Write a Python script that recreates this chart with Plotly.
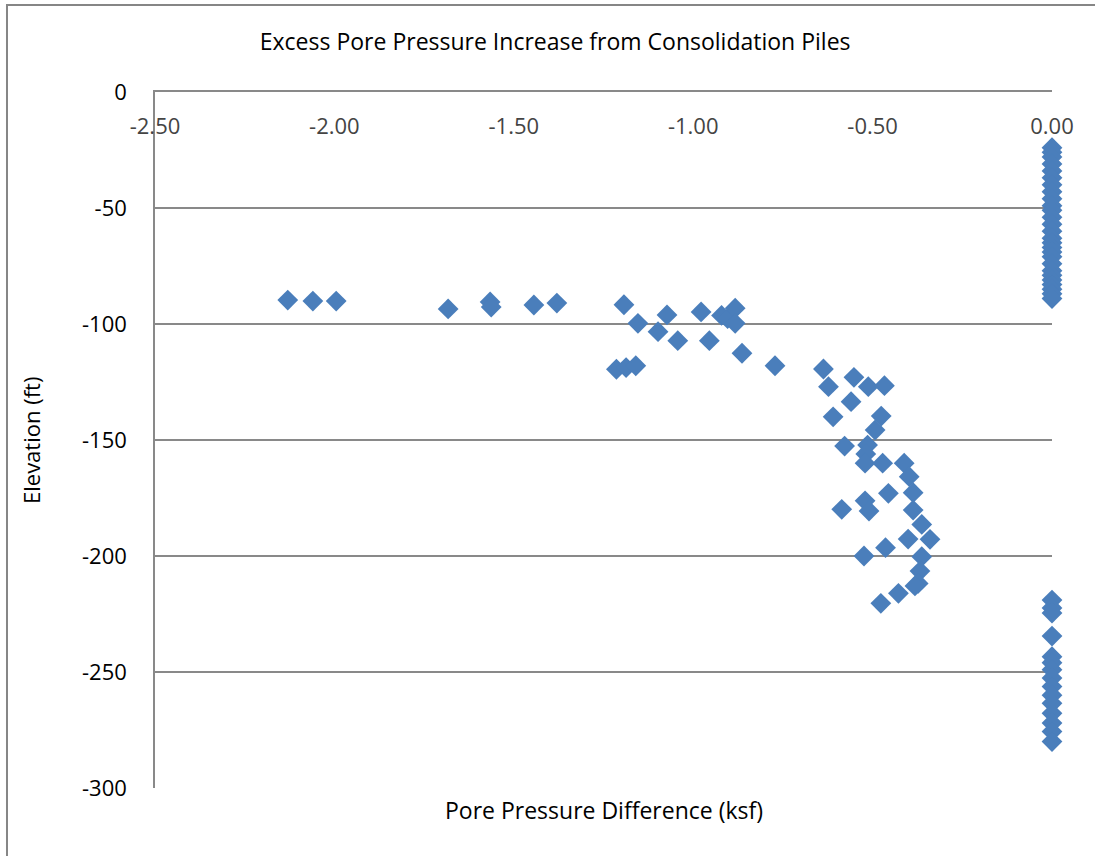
import plotly.graph_objects as go

# Pore pressure difference (ksf) and elevation (ft) for each node
pressure_diff = [
    -2.13, -2.06, -1.995, -1.683, -1.566, -1.563, -1.444, -1.38,
    -1.193, -1.154, -1.073, -1.098, -1.043, -0.978, -0.955, -0.921,
    -0.904, -0.883, -0.883, -0.864, -0.772, -1.214, -1.187, -1.16,
    -0.637, -0.623, -0.552, -0.512, -0.467, -0.560, -0.610, -0.476,
    -0.493, -0.578, -0.514, -0.519, -0.521, -0.472, -0.412, -0.398,
    -0.387, -0.456, -0.521, -0.586, -0.510, -0.387, -0.363, -0.401,
    -0.340, -0.464, -0.524, -0.363, -0.368, -0.373, -0.382, -0.428,
    -0.477,
]
elevation = [
    -89.7, -90.1, -90.1, -93.5, -90.5, -92.7, -91.8, -91.0,
    -91.7, -99.7, -96.1, -103.3, -107.2, -94.8, -107.2, -96.3,
    -97.7, -93.2, -99.7, -112.6, -118.0, -119.5, -118.8, -118.0,
    -119.4, -127.0, -123.0, -127.0, -126.6, -133.5, -140.0, -139.7,
    -145.7, -152.6, -152.2, -156.0, -160.0, -160.0, -160.0, -165.8,
    -172.7, -173.0, -176.2, -179.9, -180.6, -180.2, -186.4, -192.7,
    -192.8, -196.4, -200.0, -200.3, -206.5, -211.8, -212.9, -216.1,
    -220.4,
]

# Nodes with no change in pore pressure
zero_elev_upper = [
    -24, -26, -28, -31, -34, -37, -40, -43, -46, -49, -51, -54,
    -57, -60, -63, -65, -67, -69, -71, -74, -77, -79, -81, -83,
    -85, -87, -89,
]
zero_elev_lower = [
    -219, -222.4, -224.6, -234.5, -243.4, -246, -249, -252.6,
    -256.3, -260, -263.5, -267.8, -272, -275.7, -280,
]
zero_diff = [0.0] * (len(zero_elev_upper) + len(zero_elev_lower))

x_vals = pressure_diff + zero_diff
y_vals = elevation + zero_elev_upper + zero_elev_lower

x_ticks = [-2.5, -2.0, -1.5, -1.0, -0.5, 0.0]
x_tick_labels = ["-2.50", "-2.00", "-1.50", "-1.00", "-0.50", "0.00"]
y_ticks = [0, -50, -100, -150, -200, -250, -300]
y_tick_labels = ["0", "-50", "-100", "-150", "-200", "-250", "-300"]

FONT = "Open Sans, Lato, sans-serif"
GRID = "#898989"

fig = go.Figure(
    go.Scatter(
        x=x_vals,
        y=y_vals,
        mode="markers",
        marker=dict(symbol="diamond", size=16, color="#4A7EBB",
                    line=dict(width=0)),
        showlegend=False,
        cliponaxis=False,
    )
)

fig.update_layout(
    width=1095,
    height=856,
    margin=dict(l=155, r=43, t=92, b=68),
    paper_bgcolor="white",
    plot_bgcolor="white",
    font=dict(family=FONT, size=22, color="black"),
    title=dict(
        text="Excess Pore Pressure Increase from Consolidation Piles",
        x=0.507, xanchor="center", y=0.951, yanchor="middle",
        xref="container", yref="container",
        font=dict(family=FONT, size=23, color="black"),
    ),
    xaxis=dict(
        range=[-2.5, 0.0],
        tickvals=x_ticks,
        ticktext=x_tick_labels,
        side="top",
        ticklabelposition="inside",
        ticklabeloverflow="allow",
        ticklabelstandoff=28,
        showgrid=False,
        zeroline=False,
        showline=True,
        linecolor=GRID,
        linewidth=1.5,
        ticks="",
        tickfont=dict(size=22),
    ),
    yaxis=dict(
        range=[-300, 0],
        tickvals=y_ticks,
        ticktext=y_tick_labels,
        showgrid=True,
        gridcolor=GRID,
        gridwidth=1.5,
        zeroline=False,
        showline=True,
        linecolor=GRID,
        linewidth=1.5,
        ticks="",
        ticklabelstandoff=22,
        tickfont=dict(size=22),
    ),
)

# axis titles
fig.add_annotation(
    text="Pore Pressure Difference (ksf)",
    xref="paper", yref="paper", x=0.5, y=-0.031,
    xanchor="center", yanchor="middle", showarrow=False,
    font=dict(family=FONT, size=23, color="black"),
)
fig.add_annotation(
    text="Elevation (ft)", textangle=-90,
    xref="paper", yref="paper", x=(31 - 155) / 897, y=0.5,
    xanchor="center", yanchor="middle", showarrow=False,
    font=dict(family=FONT, size=22, color="black"),
)

# chart area outline
fig.add_shape(
    type="rect", xref="paper", yref="paper",
    x0=-0.165, x1=1.2, y0=-0.3, y1=1.125,
    line=dict(color="#868686", width=2), fillcolor="rgba(0,0,0,0)",
    layer="below",
)

fig.write_html("out.html")
